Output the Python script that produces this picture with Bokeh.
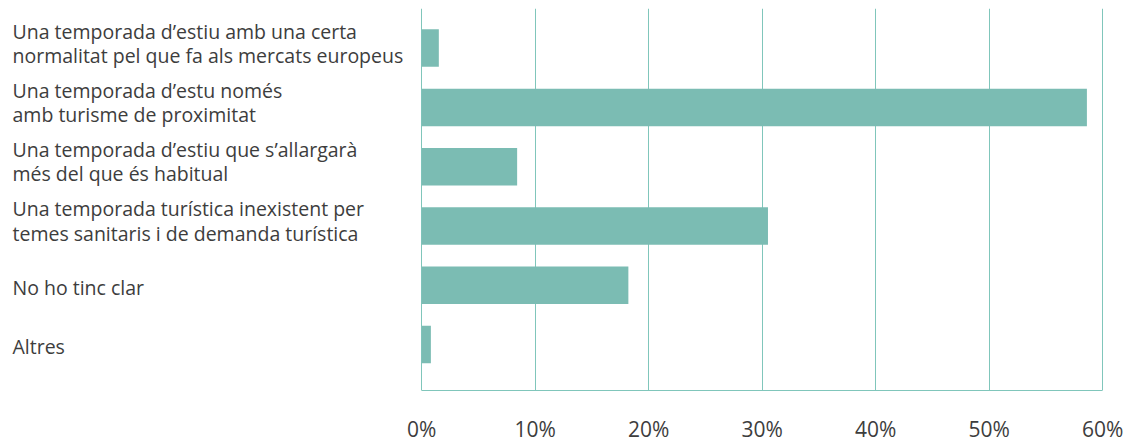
from bokeh.plotting import figure
from bokeh.models import Range1d, FixedTicker, ColumnDataSource
from bokeh.core.properties import value
from bokeh.embed import file_html
from bokeh.resources import INLINE

categories = [
    "Una temporada d\u2019estiu amb una certa\nnormalitat pel que fa als mercats europeus",
    "Una temporada d\u2019estu nom\u00e9s\namb turisme de proximitat",
    "Una temporada d\u2019estiu que s\u2019allargar\u00e0\nm\u00e9s del que \u00e9s habitual",
    "Una temporada tur\u00edstica inexistent per\ntemes sanitaris i de demanda tur\u00edstica",
    "No ho tinc clar",
    "Altres",
]
values = [1.5, 58.6, 8.4, 30.5, 18.2, 0.8]
ticks = [0, 10, 20, 30, 40, 50, 60]
tick_labels = ["0%", "10%", "20%", "30%", "40%", "50%", "60%"]

FONT = "Open Sans"
BAR = "#7bbcb3"
GRID = "#80c6bb"
TEXT = "#3d3d3d"

px_per_unit = 11.35
frame_left_px = 8
frame_w = 1100
x_start = -(421.3 - frame_left_px) / px_per_unit
x_end = x_start + frame_w / px_per_unit

pos = list(range(len(categories)))
label_dy = [-5 if "\n" in c else 2 for c in categories]
src = ColumnDataSource(dict(y=pos, v=values, cat=categories, dy=label_dy))

p = figure(width=1127, height=445, output_backend="svg", toolbar_location=None,
           x_range=Range1d(x_start, x_end), y_range=Range1d(5.775, -0.668),
           min_border_left=8, min_border_top=8, min_border_right=19,
           min_border_bottom=53)
p.outline_line_color = None
p.background_fill_color = "white"
p.border_fill_color = "white"

p.hbar(y="y", left=0, right="v", height=0.633, source=src,
       fill_color=BAR, line_color=None)

p.text(x=x_start + (12 - frame_left_px) / px_per_unit, y="y", text="cat", source=src,
       text_font=value(FONT), text_font_size="19.5px", text_color=TEXT,
       text_align="left", text_baseline="middle", text_line_height=0.895,
       y_offset="dy")

p.yaxis.visible = False
p.ygrid.grid_line_color = None

p.xgrid.ticker = FixedTicker(ticks=ticks)
p.xgrid.grid_line_color = GRID
p.xgrid.grid_line_width = 1
p.xgrid.bounds = (0, 60)

xa = p.xaxis[0]
xa.ticker = FixedTicker(ticks=ticks)
xa.major_label_overrides = {t: l for t, l in zip(ticks, tick_labels)}
xa.bounds = (0, 60)
xa.axis_line_color = GRID
xa.major_tick_line_color = None
xa.minor_tick_line_color = None
xa.major_tick_out = 0
xa.major_tick_in = 0
xa.minor_tick_out = 0
xa.minor_tick_in = 0
xa.major_label_standoff = 24
xa.major_label_text_font = FONT
xa.major_label_text_font_size = "21px"
xa.major_label_text_color = TEXT

open("out.html", "w").write(file_html(p, INLINE))
